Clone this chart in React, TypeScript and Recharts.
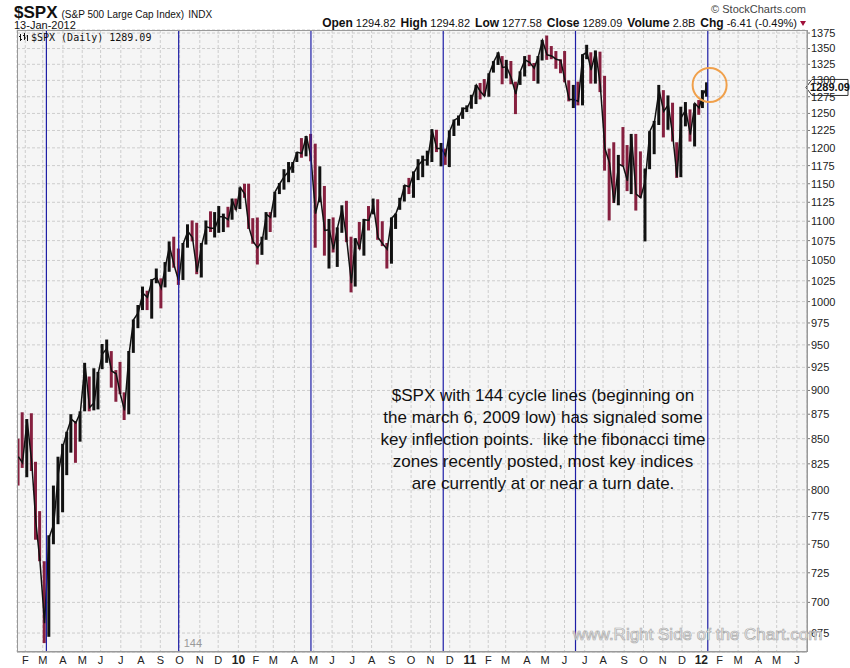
import React from 'react';
import { ComposedChart, Bar, Line, Cell, XAxis, YAxis, CartesianGrid, ReferenceLine, ReferenceDot } from 'recharts';

const FONT = '"Liberation Sans", Arial, Helvetica, sans-serif';
const UP = '#111111';
const DOWN = '#86203f';
const CYCLE = '#1e1ea6';

// ---- weekly $SPX data (week ending) ----
const weekEnding = [
  '2009-01-23','2009-01-30','2009-02-06','2009-02-13','2009-02-20','2009-02-27','2009-03-06','2009-03-13','2009-03-20','2009-03-27',
  '2009-04-03','2009-04-09','2009-04-17','2009-04-24','2009-05-01','2009-05-08','2009-05-15','2009-05-22','2009-05-29','2009-06-05',
  '2009-06-12','2009-06-19','2009-06-26','2009-07-02','2009-07-10','2009-07-17','2009-07-24','2009-07-31','2009-08-07','2009-08-14',
  '2009-08-21','2009-08-28','2009-09-04','2009-09-11','2009-09-18','2009-09-25','2009-10-02','2009-10-09','2009-10-16','2009-10-23',
  '2009-10-30','2009-11-06','2009-11-13','2009-11-20','2009-11-27','2009-12-04','2009-12-11','2009-12-18','2009-12-24','2009-12-31',
  '2010-01-08','2010-01-15','2010-01-22','2010-01-29','2010-02-05','2010-02-12','2010-02-19','2010-02-26','2010-03-05','2010-03-12',
  '2010-03-19','2010-03-26','2010-04-01','2010-04-09','2010-04-16','2010-04-23','2010-04-30','2010-05-07','2010-05-14','2010-05-21',
  '2010-05-28','2010-06-04','2010-06-11','2010-06-18','2010-06-25','2010-07-02','2010-07-09','2010-07-16','2010-07-23','2010-07-30',
  '2010-08-06','2010-08-13','2010-08-20','2010-08-27','2010-09-03','2010-09-10','2010-09-17','2010-09-24','2010-10-01','2010-10-08',
  '2010-10-15','2010-10-22','2010-10-29','2010-11-05','2010-11-12','2010-11-19','2010-11-26','2010-12-03','2010-12-10','2010-12-17',
  '2010-12-23','2010-12-31',
  '2011-01-07','2011-01-14','2011-01-21','2011-01-28','2011-02-04','2011-02-11','2011-02-18','2011-02-25','2011-03-04','2011-03-11',
  '2011-03-18','2011-03-25','2011-04-01','2011-04-08','2011-04-15','2011-04-21','2011-04-29','2011-05-06','2011-05-13','2011-05-20',
  '2011-05-27','2011-06-03','2011-06-10','2011-06-17','2011-06-24','2011-07-01','2011-07-08','2011-07-15','2011-07-22','2011-07-29',
  '2011-08-05','2011-08-12','2011-08-19','2011-08-26','2011-09-02','2011-09-09','2011-09-16','2011-09-23','2011-09-30','2011-10-07',
  '2011-10-14','2011-10-21','2011-10-28','2011-11-04','2011-11-11','2011-11-18','2011-11-25','2011-12-02','2011-12-09','2011-12-16',
  '2011-12-23','2011-12-30','2012-01-06','2012-01-13',
];

// trading sessions in each week (holiday weeks have 4)
const weekSessions = [
  4,5,5,5,4,5,5,5,5,5, 5,4,5,5,5,5,5,5,4,5, 5,5,5,4,5,5,5,5,5,5, 5,5,5,4,5,5,5,5,5,5, 5,5,5,5,4,5,5,5,4,4,
  5,5,4,5,5,5,4,5,5,5, 5,5,4,5,5,5,5,5,5,5, 5,4,5,5,5,5,4,5,5,5, 5,5,5,5,5,4,5,5,5,5, 5,5,5,5,5,5,4,5,5,5, 4,5,
  5,5,4,5,5,5,5,4,5,5, 5,5,5,5,5,4,5,5,5,5, 5,4,5,5,5,5,4,5,5,5, 5,5,5,5,5,4,5,5,5,5, 5,5,5,5,5,5,4,5,5,5, 5,4,4,5,
];

const weekHigh = [
  850,877,870,876,827,780,735,758,804,832, 845,857,875,868,878,930,915,924,920,951, 956,943,922,931,898,943,979,996,1018,1013,
  1027,1040,1028,1048,1074,1080,1065,1072,1096,1101, 1098,1072,1101,1113,1112,1120,1110,1119,1130,1130,
  1145,1150,1150,1104,1105,1080,1112,1112,1139,1151, 1170,1180,1180,1194,1214,1217,1220,1206,1174,1147,
  1103,1105,1092,1121,1127,1080,1078,1099,1103,1120, 1130,1129,1100,1072,1105,1110,1131,1148,1158,1167,
  1184,1189,1196,1227,1226,1207,1199,1225,1241,1247, 1259,1262,
  1278,1293,1296,1302,1311,1330,1344,1338,1332,1330, 1298,1314,1338,1340,1327,1338,1364,1371,1354,1346,
  1333,1346,1300,1293,1298,1341,1356,1344,1347,1345, 1307,1199,1208,1190,1230,1204,1220,1220,1195,1171,
  1224,1239,1293,1285,1277,1266,1208,1260,1267,1256, 1265,1270,1285,1297,
];

const weekLow = [
  804,821,812,818,754,735,667,672,750,768, 779,814,836,826,847,878,878,879,880,923, 930,903,888,896,869,875,941,969,990,990,
  980,1022,992,1017,1036,1041,1020,1026,1066,1074, 1033,1029,1070,1086,1079,1085,1086,1092,1102,1115,
  1116,1131,1090,1071,1045,1057,1076,1086,1105,1136, 1142,1152,1165,1180,1186,1188,1181,1066,1125,1056,
  1040,1060,1042,1085,1073,1011,1018,1064,1056,1088, 1109,1076,1068,1040,1046,1090,1115,1126,1136,1131,
  1155,1159,1175,1180,1194,1174,1176,1173,1217,1232, 1242,1252,
  1257,1264,1271,1276,1275,1312,1324,1294,1303,1294, 1249,1293,1306,1322,1299,1295,1331,1332,1333,1318,
  1311,1297,1268,1258,1262,1262,1333,1295,1295,1282, 1168,1101,1124,1121,1174,1140,1136,1114,1131,1074,
  1170,1191,1233,1215,1226,1209,1158,1159,1231,1209, 1202,1248,1258,1275,
];

const weekClose = [
  832,826,869,827,770,735,683,756,768,816, 842,857,870,866,877,929,882,887,919,940, 946,921,918,896,879,940,979,987,1010,1005,
  1026,1029,1016,1042,1068,1044,1025,1071,1087,1079, 1036,1069,1093,1091,1091,1106,1106,1102,1127,1115,
  1145,1136,1092,1074,1066,1075,1109,1105,1139,1150, 1160,1167,1178,1194,1192,1217,1187,1110,1136,1088,
  1089,1064,1092,1117,1076,1022,1078,1065,1102,1101, 1121,1079,1071,1064,1104,1110,1125,1148,1146,1165,
  1176,1183,1183,1225,1199,1199,1189,1224,1240,1244, 1257,1258,
  1272,1293,1283,1276,1310,1329,1343,1320,1321,1304, 1279,1314,1332,1328,1319,1337,1363,1340,1338,1333,
  1331,1300,1271,1271,1268,1340,1344,1316,1345,1292, 1199,1179,1124,1177,1174,1154,1216,1136,1131,1155,
  1224,1238,1285,1253,1263,1216,1159,1244,1255,1219, 1265,1258,1278,1289,
];

// x-axis: trading-session number of the first session of each month
const monthTickDays = [
  9, 28, 50, 71, 91, 113, 135, 156, 177, 199, 219,
  241, 260, 279, 302, 323, 343, 365, 386, 408, 429, 450, 471,
  493, 513, 532, 555, 575, 596, 618, 638, 661, 682, 703, 724,
  745, 765, 785, 807, 827, 849,
];
const monthTickLabels = [
  'F','M','A','M','J','J','A','S','O','N','D',
  '10','F','M','A','M','J','J','A','S','O','N','D',
  '11','F','M','A','M','J','J','A','S','O','N','D',
  '12','F','M','A','M','J',
];
const priceTicks = [675,700,725,750,775,800,825,850,875,900,925,950,975,1000,1025,1050,1075,1100,1125,1150,1175,1200,1225,1250,1275,1300,1325,1350,1375];

// 144-session cycle lines starting at the 6-Mar-2009 low
const cycleDays = [32, 176, 320, 464, 608, 752];
const cycleLabel = '144';

const lastClose = 1289.09;
const highlightDay = 754;
const highlightValue = 1293;

const annotationLines = [
  '$SPX with 144 cycle lines (beginning on',
  'the march 6, 2009 low) has signaled some',
  'key inflection points.  like the fibonacci time',
  'zones recently posted, most key indices',
  'are currently at or near a turn date.',
];

const chartData = (() => {
  let cum = 0;
  return weekSessions.map((n, i) => {
    const first = cum;
    cum += n;
    const last = cum - 1;
    return {
      week: weekEnding[i],
      day: (first + last) / 2,
      range: [weekLow[i], weekHigh[i]],
      close: weekClose[i],
      up: i === 0 ? false : weekClose[i] >= weekClose[i - 1],
    };
  });
})();

const labelByDay = new Map(monthTickDays.map((d, i) => [d, monthTickLabels[i]]));

const XTick = (props: any) => {
  const { x, payload } = props;
  const label = labelByDay.get(payload.value) || '';
  const isYear = /\d/.test(label);
  return (
    <text x={x} y={664} textAnchor="middle" fontSize={isYear ? 12 : 11} fontWeight={isYear ? 'bold' : 'normal'} fill="#222" fontFamily={FONT}>
      {label}
    </text>
  );
};

const PriceTag = (props: any) => {
  const { cx, cy } = props;
  if (cx == null || cy == null) return null;
  const x0 = cx - 1;
  return (
    <g>
      <polygon
        points={`${x0},${cy} ${x0 + 6},${cy - 8} ${x0 + 42},${cy - 8} ${x0 + 42},${cy + 8} ${x0 + 6},${cy + 8}`}
        fill="#ffffff"
        stroke="#333"
        strokeWidth={1}
      />
      <text x={x0 + 24} y={cy + 4} textAnchor="middle" fontSize={11} fontWeight="bold" fill="#111" fontFamily={FONT}>
        {lastClose.toFixed(2)}
      </text>
    </g>
  );
};

export default function App() {
  return (
    <div style={{ position: 'absolute', left: 0, top: 0, width: 850, height: 668, background: '#ffffff', fontFamily: FONT, overflow: 'hidden' }}>
      <ComposedChart width={850} height={668} data={chartData} margin={{ top: 30, right: 0, bottom: 0, left: 17 }}>
        <CartesianGrid stroke="#cdcdcd" strokeDasharray="3 2" fill="#f5f5f5" />
        <XAxis
          type="number"
          dataKey="day"
          domain={[0, 860]}
          allowDataOverflow
          ticks={monthTickDays}
          interval={0}
          tick={<XTick />}
          tickLine={false}
          tickSize={0}
          axisLine={{ stroke: '#9a9a9a' }}
          height={16}
        />
        <YAxis
          orientation="right"
          scale="log"
          domain={[660, 1380]}
          allowDataOverflow
          ticks={priceTicks}
          interval={0}
          width={43}
          tickSize={3}
          tickMargin={1}
          tick={{ fontSize: 11, fill: '#222', fontFamily: FONT }}
          axisLine={{ stroke: '#9a9a9a' }}
          tickLine={{ stroke: '#777' }}
        />
        <Bar dataKey="range" barSize={3} isAnimationActive={false}>
          {chartData.map((d, i) => (
            <Cell key={i} fill={d.up ? UP : DOWN} />
          ))}
        </Bar>
        <Line dataKey="close" type="linear" stroke="#111" strokeWidth={1.5} dot={false} isAnimationActive={false} />
        {cycleDays.map((d, i) => (
          <ReferenceLine
            key={d}
            x={d}
            stroke={CYCLE}
            strokeWidth={1.2}
            label={i === 1 ? { value: cycleLabel, position: 'insideBottomLeft', fill: '#9a9a9a', fontSize: 11, offset: 5 } : undefined}
          />
        ))}
        <ReferenceDot x={highlightDay} y={highlightValue} r={17} fill="none" stroke="#f0a04b" strokeWidth={2} ifOverflow="visible" />
        <ReferenceDot x={860} y={lastClose} r={1} ifOverflow="visible" shape={PriceTag} />
      </ComposedChart>

      <svg width={850} height={668} style={{ position: 'absolute', left: 0, top: 0, pointerEvents: 'none' }} fontFamily={FONT}>
        <rect x={17.5} y={30.5} width={790} height={621} fill="none" stroke="#9a9a9a" />
        <text x={14} y={18} fill="#111">
          <tspan fontSize={17} fontWeight="bold">$SPX</tspan>
          <tspan fontSize={10} dx={4}>(S&amp;P 500 Large Cap Index)</tspan>
          <tspan fontSize={10} dx={4}>INDX</tspan>
        </text>
        <text x={14} y={29} fontSize={11} fill="#111">13-Jan-2012</text>
        <text x={806} y={13} fontSize={11} fill="#444" textAnchor="end">© StockCharts.com</text>
        <text x={797} y={27} fill="#111" textAnchor="end">
          <tspan fontSize={12} fontWeight="bold">Open</tspan>
          <tspan fontSize={11} dx={3}>1294.82</tspan>
          <tspan fontSize={12} fontWeight="bold" dx={5}>High</tspan>
          <tspan fontSize={11} dx={3}>1294.82</tspan>
          <tspan fontSize={12} fontWeight="bold" dx={5}>Low</tspan>
          <tspan fontSize={11} dx={3}>1277.58</tspan>
          <tspan fontSize={12} fontWeight="bold" dx={5}>Close</tspan>
          <tspan fontSize={11} dx={3}>1289.09</tspan>
          <tspan fontSize={12} fontWeight="bold" dx={5}>Volume</tspan>
          <tspan fontSize={11} dx={3}>2.8B</tspan>
          <tspan fontSize={12} fontWeight="bold" dx={5}>Chg</tspan>
          <tspan fontSize={11} dx={3}>-6.41 (-0.49%)</tspan>
        </text>
        <polygon points="800,21 806,21 803,26" fill="#a0103a" />
        <g stroke="#111" strokeWidth={1}>
          <path d="M20.5 34 V41 M19 36.5 H20.5 M20.5 39.5 H22" />
          <path d="M24.5 33 V40 M23 35.5 H24.5 M24.5 38 H26" />
          <path d="M27.5 35 V41 M26.5 36 H27.5" />
        </g>
        <text x={31} y={41} fontSize={10} fill="#111" fontFamily='"DejaVu Sans Mono", monospace'>$SPX (Daily) 1289.09</text>
        <g fontSize={17} fill="#111" textAnchor="middle" style={{ whiteSpace: 'pre' }}>
          {annotationLines.map((line, i) => (
            <text key={i} x={543} y={401 + i * 22} xmlSpace="preserve">{line}</text>
          ))}
        </g>
        <text x={573} y={640} fontSize={17} fill="#f2f2f2" stroke="#a8a8a8" strokeWidth={0.7} opacity={0.95}>
          www.Right Side of the Chart.com
        </text>
      </svg>
    </div>
  );
}
